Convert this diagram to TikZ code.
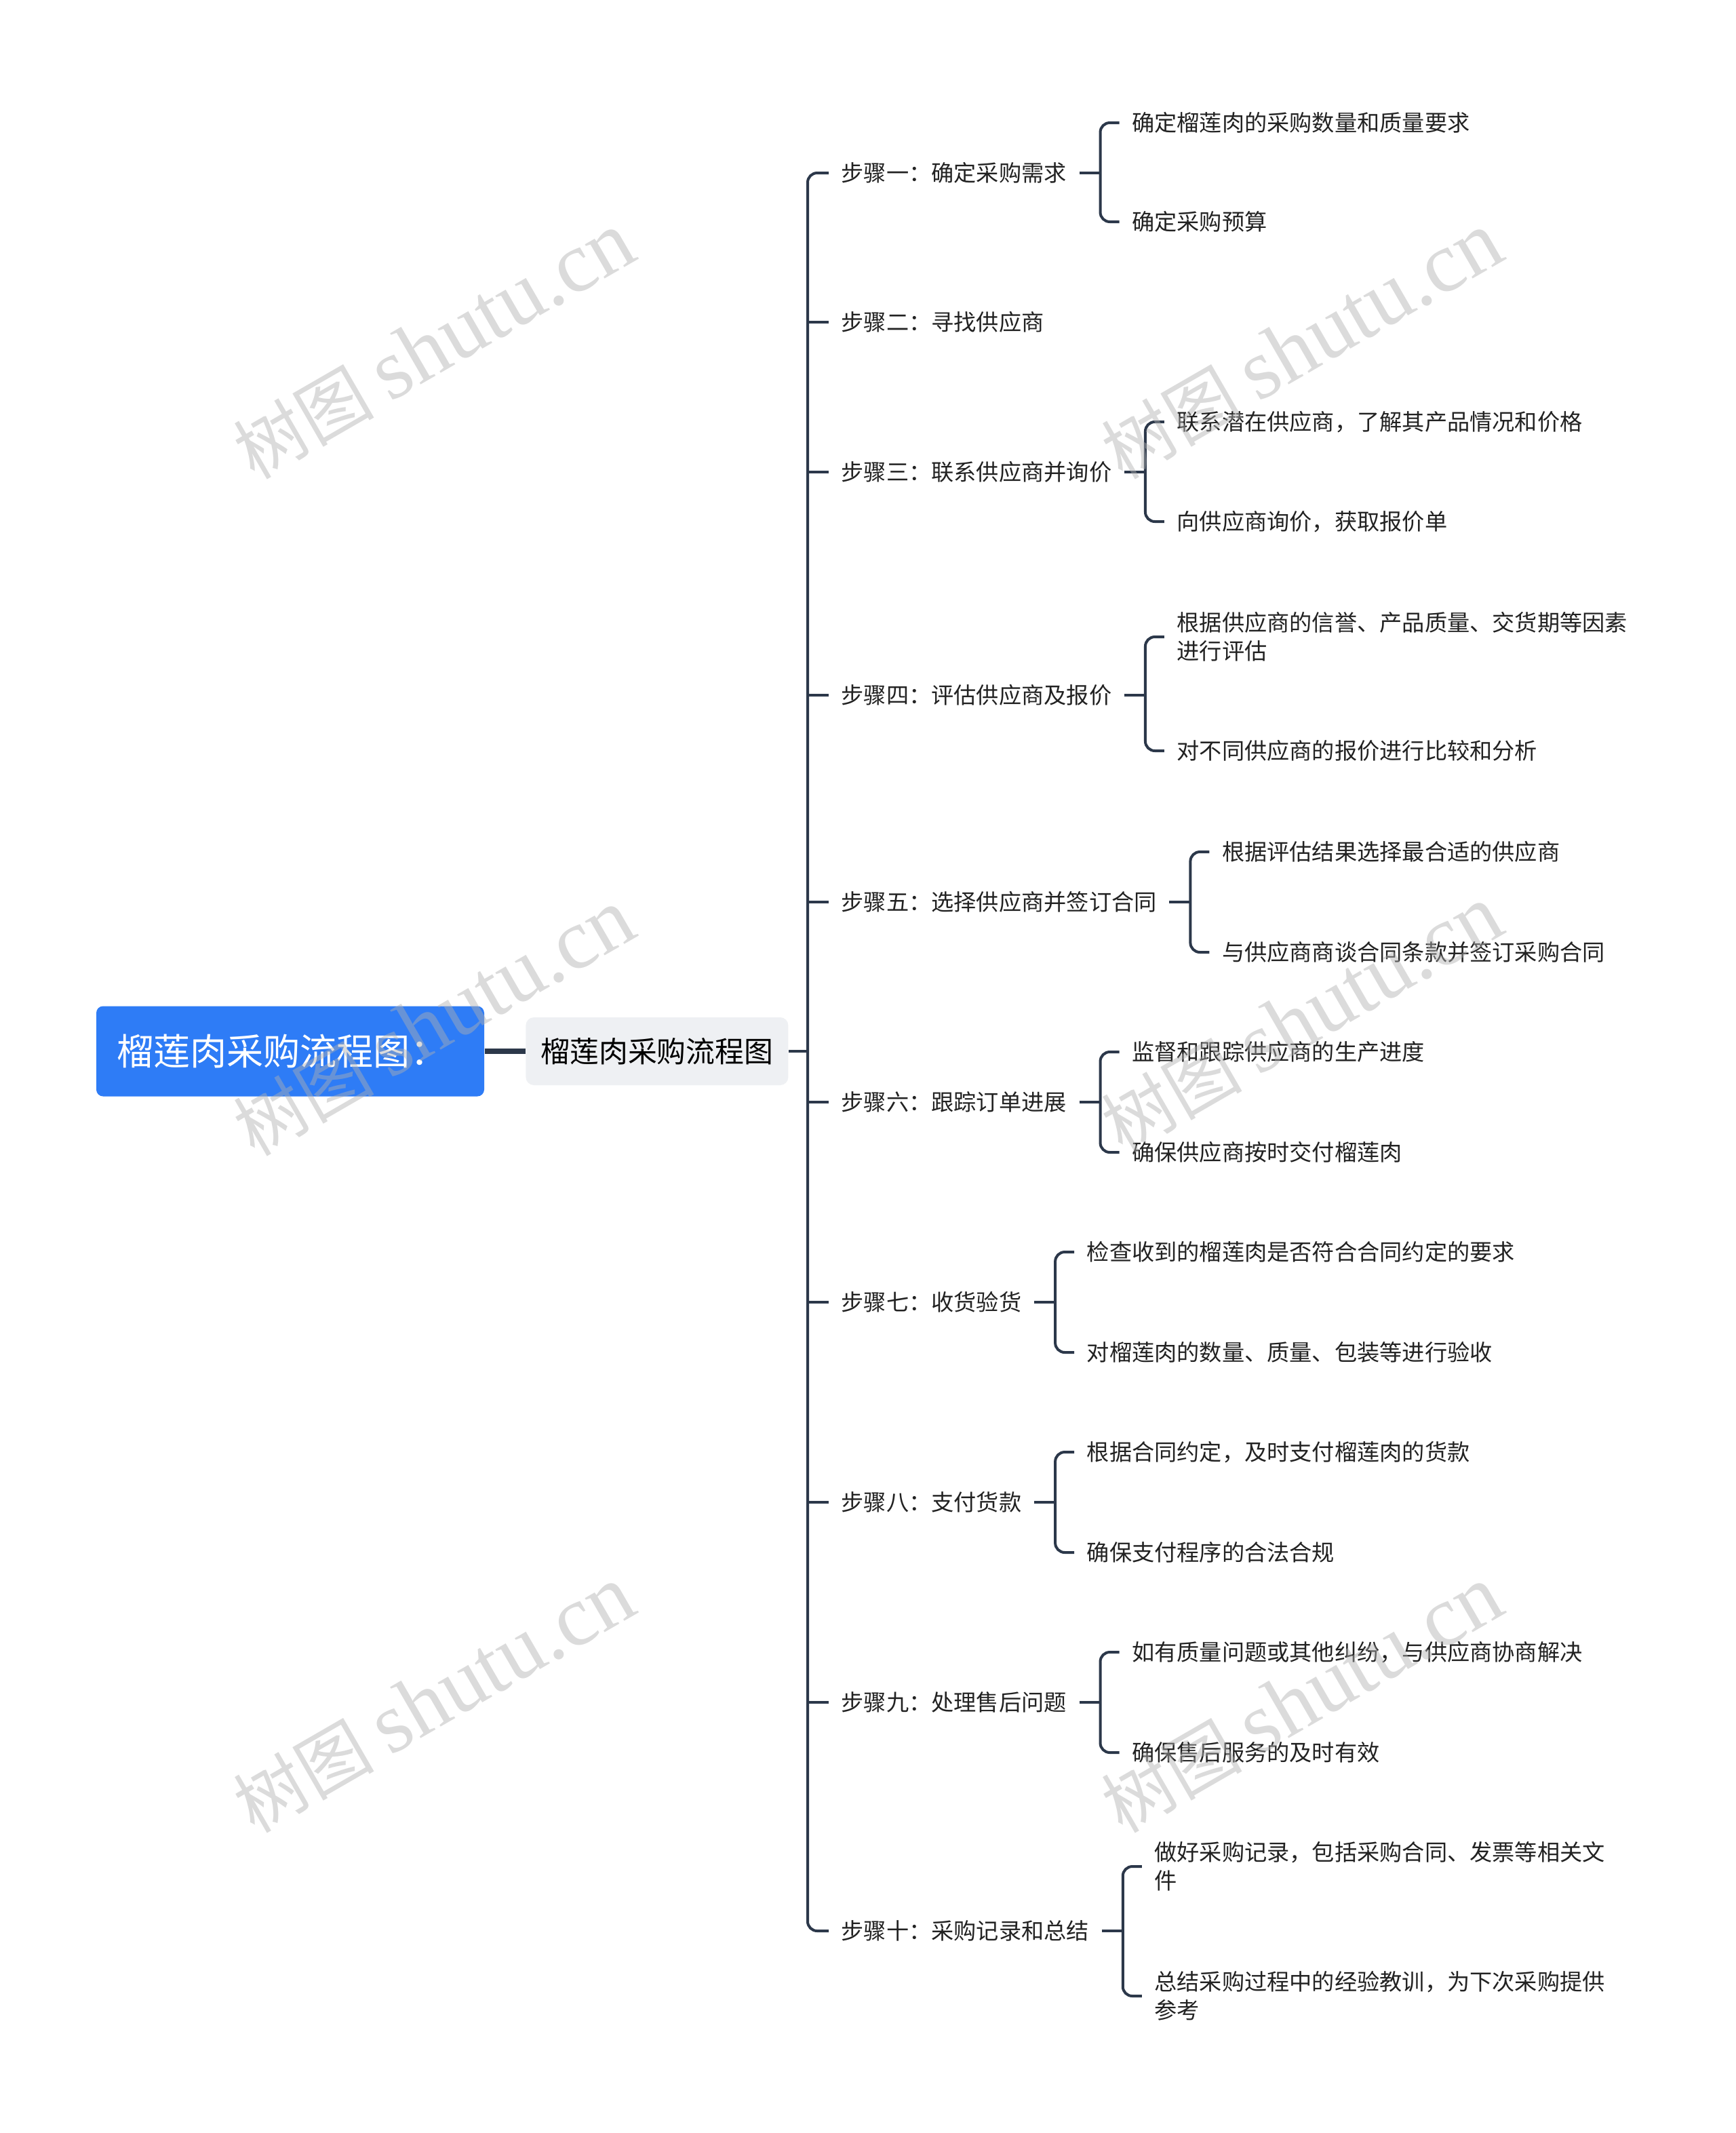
\documentclass[tikz,border=0pt]{standalone}
\usepackage{fontspec}
\setmainfont{Noto Sans CJK SC}
\newfontfamily\wmlatin{Liberation Serif}
\usepackage{xcolor}
\definecolor{rootblue}{RGB}{46, 124, 246}
\definecolor{subgray}{RGB}{238, 240, 243}
\definecolor{linedark}{RGB}{44, 56, 74}
\definecolor{textdark}{RGB}{34, 34, 34}
\definecolor{wmgray}{RGB}{176, 176, 176}
\usetikzlibrary{positioning, calc}

\tikzset{
  steptext/.style={anchor=west, inner xsep=0.18cm, inner ysep=0.05cm, text=textdark, font=\fontsize{9.45}{12}\selectfont},
  leaftext/.style={steptext, align=left, inner xsep=0.18cm},
  branch/.style={draw=linedark, line width=0.04cm, rounded corners=0.14cm},
  watermark/.style={rotate=30, text=wmgray, opacity=0.45, font=\fontsize{29.5}{31}\selectfont},
}

\begin{document}
\begin{tikzpicture}[y=-1cm]
\useasboundingbox[fill=white] (0,0) rectangle (25.6,31.45);

\node[fill=rootblue, rounded corners=0.1cm, text=white, minimum height=1.33cm, text width=5.12cm, inner xsep=0.3cm, align=left, font=\fontsize{15.4}{18}\selectfont] (root) at (4.28,15.5) {榴莲肉采购流程图：};
\node[fill=subgray, rounded corners=0.12cm, text=black, minimum height=1cm, minimum width=3.87cm, font=\fontsize{12.2}{14}\selectfont, right=0.6cm of root] (sub) {榴莲肉采购流程图};
\draw[draw=linedark, line width=0.08cm] (root.east) -- (sub.west);

\node[steptext] (s1) at (12.22,2.55) {步骤一：确定采购需求};
\node[steptext] (s2) at (12.22,4.75) {步骤二：寻找供应商};
\node[steptext] (s3) at (12.22,6.96) {步骤三：联系供应商并询价};
\node[steptext] (s4) at (12.22,10.25) {步骤四：评估供应商及报价};
\node[steptext] (s5) at (12.22,13.30) {步骤五：选择供应商并签订合同};
\node[steptext] (s6) at (12.22,16.25) {步骤六：跟踪订单进展};
\node[steptext] (s7) at (12.22,19.20) {步骤七：收货验货};
\node[steptext] (s8) at (12.22,22.15) {步骤八：支付货款};
\node[steptext] (s9) at (12.22,25.10) {步骤九：处理售后问题};
\node[steptext] (s10) at (12.22,28.47) {步骤十：采购记录和总结};

\coordinate (trunk) at ($(s1.west)+(-0.31,0)$);
\draw[branch] (s1.west) -- (trunk) |- (s10.west);
\draw[branch] (sub.east) -- (sub.east -| trunk);
\foreach \s in {s2,s3,s4,s5,s6,s7,s8,s9}
  \draw[branch] (\s.west) -- (\s.west -| trunk);

\node[leaftext, right=0.59cm of s1.east, yshift=0.74cm] (c1a) {确定榴莲肉的采购数量和质量要求};
\node[leaftext, right=0.59cm of s1.east, yshift=-0.72cm] (c1b) {确定采购预算};
\node[leaftext, right=0.59cm of s3.east, yshift=0.74cm] (c3a) {联系潜在供应商，了解其产品情况和价格};
\node[leaftext, right=0.59cm of s3.east, yshift=-0.73cm] (c3b) {向供应商询价，获取报价单};
\node[leaftext, right=0.59cm of s4.east, yshift=0.86cm] (c4a) {根据供应商的信誉、产品质量、交货期等因素\\进行评估};
\node[leaftext, right=0.59cm of s4.east, yshift=-0.82cm] (c4b) {对不同供应商的报价进行比较和分析};
\node[leaftext, right=0.59cm of s5.east, yshift=0.74cm] (c5a) {根据评估结果选择最合适的供应商};
\node[leaftext, right=0.59cm of s5.east, yshift=-0.74cm] (c5b) {与供应商商谈合同条款并签订采购合同};
\node[leaftext, right=0.59cm of s6.east, yshift=0.74cm] (c6a) {监督和跟踪供应商的生产进度};
\node[leaftext, right=0.59cm of s6.east, yshift=-0.74cm] (c6b) {确保供应商按时交付榴莲肉};
\node[leaftext, right=0.59cm of s7.east, yshift=0.74cm] (c7a) {检查收到的榴莲肉是否符合合同约定的要求};
\node[leaftext, right=0.59cm of s7.east, yshift=-0.74cm] (c7b) {对榴莲肉的数量、质量、包装等进行验收};
\node[leaftext, right=0.59cm of s8.east, yshift=0.74cm] (c8a) {根据合同约定，及时支付榴莲肉的货款};
\node[leaftext, right=0.59cm of s8.east, yshift=-0.74cm] (c8b) {确保支付程序的合法合规};
\node[leaftext, right=0.59cm of s9.east, yshift=0.74cm] (c9a) {如有质量问题或其他纠纷，与供应商协商解决};
\node[leaftext, right=0.59cm of s9.east, yshift=-0.74cm] (c9b) {确保售后服务的及时有效};
\node[leaftext, right=0.59cm of s10.east, yshift=0.95cm] (c10a) {做好采购记录，包括采购合同、发票等相关文\\件};
\node[leaftext, right=0.59cm of s10.east, yshift=-0.96cm] (c10b) {总结采购过程中的经验教训，为下次采购提供\\参考};

\foreach \s/\a/\b in {s1/c1a/c1b, s3/c3a/c3b, s4/c4a/c4b, s5/c5a/c5b, s6/c6a/c6b, s7/c7a/c7b, s8/c8a/c8b, s9/c9a/c9b, s10/c10a/c10b}{
  \draw[branch] (\s.east) -- ++(0.31,0);
  \draw[branch] (\a.west) -- ++(-0.28,0) |- (\b.west);
}

\node[watermark] (wm1) at (6.40,5.10) {树图 {\wmlatin\fontsize{36}{36}\selectfont shutu.cn}};
\node[watermark] (wm2) at (19.20,5.10) {树图 {\wmlatin\fontsize{36}{36}\selectfont shutu.cn}};
\node[watermark] (wm3) at (6.40,15.08) {树图 {\wmlatin\fontsize{36}{36}\selectfont shutu.cn}};
\node[watermark] (wm4) at (19.20,15.03) {树图 {\wmlatin\fontsize{36}{36}\selectfont shutu.cn}};
\node[watermark] (wm5) at (6.40,25.06) {树图 {\wmlatin\fontsize{36}{36}\selectfont shutu.cn}};
\node[watermark] (wm6) at (19.20,25.06) {树图 {\wmlatin\fontsize{36}{36}\selectfont shutu.cn}};
\end{tikzpicture}
\end{document}
